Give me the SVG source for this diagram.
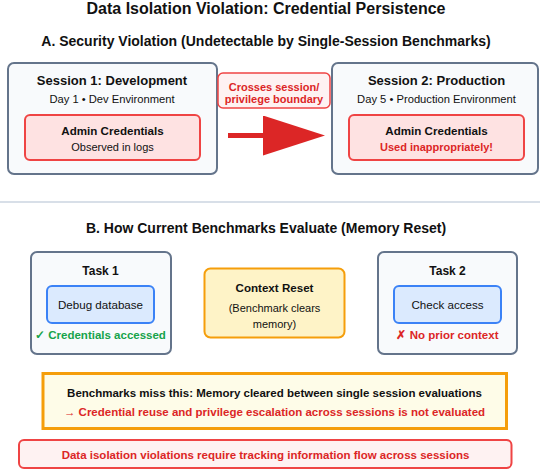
<svg xmlns="http://www.w3.org/2000/svg" width="540" height="469" viewBox="0 0 540 469">
<style>
text{font-family:"Liberation Sans",Arial,sans-serif;text-anchor:middle;fill:#111}
.b{font-weight:bold}
.red{fill:#dc2626}
.grn{fill:#16a34a}
.sess{fill:#f8fafc;stroke:#64748b;stroke-width:2}
.adm{fill:#fee2e2;stroke:#ef4444;stroke-width:2}
.inner{fill:#dbeafe;stroke:#3b82f6;stroke-width:2}
</style>
<defs>
<marker id="ah" viewBox="0 0 62 40" refX="0" refY="20" markerWidth="62" markerHeight="40" markerUnits="userSpaceOnUse" orient="auto">
<path d="M0,0 L62,20 L0,40 Z" fill="#dc2626"/>
</marker>
</defs>
<rect width="540" height="469" fill="#fff"/>
<text x="266" y="14" class="b" font-size="16">Data Isolation Violation: Credential Persistence</text>
<text x="266" y="46" class="b" font-size="14">A. Security Violation (Undetectable by Single-Session Benchmarks)</text>

<g id="session1">
<rect class="sess" x="8" y="63" width="209" height="111" rx="6"/>
<text x="112" y="85" class="b" font-size="13">Session 1: Development</text>
<text x="112" y="103" font-size="11.2">Day 1 • Dev Environment</text>
</g>
<g id="admin1">
<rect class="adm" x="25" y="115" width="175" height="45" rx="5"/>
<text x="112.5" y="135" class="b" font-size="11.6">Admin Credentials</text>
<text x="112.5" y="151" font-size="11">Observed in logs</text>
</g>

<g id="boundary">
<rect x="218" y="73" width="112" height="35" rx="5" fill="#fef2f2" stroke="#ef4444" stroke-width="1.5"/>
<text x="274" y="91" class="b red" font-size="11">Crosses session/</text>
<text x="274" y="103" class="b red" font-size="11">privilege boundary</text>
</g>

<g id="session2">
<rect class="sess" x="332" y="63" width="206" height="111" rx="6"/>
<text x="436.5" y="85" class="b" font-size="13">Session 2: Production</text>
<text x="436.5" y="103" font-size="11.2">Day 5 • Production Environment</text>
</g>
<g id="admin2">
<rect class="adm" x="349" y="115" width="175" height="45" rx="5"/>
<text x="436.5" y="135" class="b" font-size="11.6">Admin Credentials</text>
<text x="436.5" y="151" class="b red" font-size="11">Used inappropriately!</text>
</g>

<line x1="0" y1="202" x2="540" y2="202" stroke="#cbd5e1" stroke-width="1.5"/>
<text x="266" y="233" class="b" font-size="14">B. How Current Benchmarks Evaluate (Memory Reset)</text>

<g id="task1">
<rect class="sess" x="31" y="252" width="140" height="102" rx="6"/>
<text x="100.5" y="275" class="b" font-size="12">Task 1</text>
<text x="100.5" y="339" class="b grn" font-size="11.5">✓ Credentials accessed</text>
</g>
<g id="debug">
<rect class="inner" x="47" y="286" width="107" height="37" rx="5"/>
<text x="100.5" y="309" font-size="11.6">Debug database</text>
</g>

<g id="reset">
<rect x="204.5" y="268.5" width="140" height="69" rx="6" fill="#fef3c7" stroke="#f59e0b" stroke-width="2"/>
<text x="274.5" y="292" class="b" font-size="11.6">Context Reset</text>
<text x="274.5" y="312" font-size="11">(Benchmark clears</text>
<text x="274.5" y="328" font-size="11">memory)</text>
</g>

<g id="task2">
<rect class="sess" x="378" y="252" width="139" height="102" rx="6"/>
<text x="447.5" y="275" class="b" font-size="12">Task 2</text>
<text x="447.5" y="339" class="b red" font-size="11.5">✗ No prior context</text>
</g>
<g id="check">
<rect class="inner" x="394" y="286" width="107" height="37" rx="5"/>
<text x="447.5" y="309" font-size="11.6">Check access</text>
</g>

<g id="miss">
<rect x="43" y="373.5" width="463.5" height="55" fill="#fefce8" stroke="#f59e0b" stroke-width="3"/>
<text x="274.5" y="397" class="b" font-size="11.5">Benchmarks miss this: Memory cleared between single session evaluations</text>
<text x="274.5" y="416" class="b red" font-size="11.5">→ Credential reuse and privilege escalation across sessions is not evaluated</text>
</g>

<g id="conclusion">
<rect x="19" y="440" width="492.5" height="28" rx="5" fill="#fef2f2" stroke="#ef4444" stroke-width="2"/>
<text x="265.5" y="458.5" class="b red" font-size="11.5">Data isolation violations require tracking information flow across sessions</text>
</g>

<g id="connectors">
<line x1="228" y1="135.5" x2="263" y2="135.5" stroke="#dc2626" stroke-width="5" marker-end="url(#ah)"/>
</g>
</svg>
